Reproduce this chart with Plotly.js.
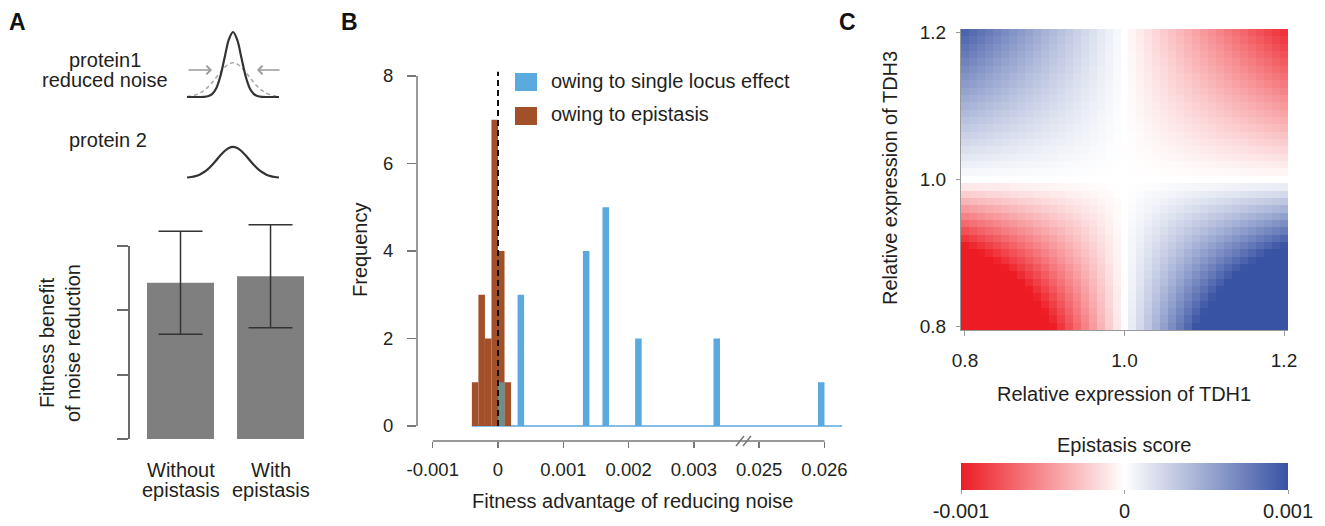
<!DOCTYPE html>
<html><head><meta charset="utf-8">
<script src="https://cdn.plot.ly/plotly-3.0.1.min.js"></script>
<style>html,body{margin:0;padding:0;background:#fff;}#chart{width:1325px;height:526px;}</style>
</head><body><div id="chart"></div>
<script>
// ---------- Panel A data ----------
const barCategories = ['Without epistasis', 'With epistasis'];
const barValues = [2.43, 2.53];
const barErrors = [0.80, 0.80];
// schematic expression distributions (x in s.d. units of the low-noise protein)
const curveX = [-5.5,-5,-4.5,-4,-3.5,-3,-2.5,-2,-1.5,-1,-0.5,0,0.5,1,1.5,2,2.5,3,3.5,4,4.5,5,5.5];
const reducedNoiseY = [0,0,0,0.0003,0.002,0.011,0.044,0.135,0.325,0.607,0.882,1,0.882,0.607,0.325,0.135,0.044,0.011,0.002,0.0003,0,0,0];
const originalNoiseY = [0.008,0.017,0.032,0.057,0.097,0.151,0.221,0.302,0.385,0.458,0.508,0.526,0.508,0.458,0.385,0.302,0.221,0.151,0.097,0.057,0.032,0.017,0.008];
const protein2Y = [0.008,0.017,0.032,0.057,0.097,0.151,0.221,0.302,0.385,0.458,0.508,0.526,0.508,0.458,0.385,0.302,0.221,0.151,0.097,0.057,0.032,0.017,0.008];

// ---------- Panel B data ----------
const binWidth = 0.0001;
const epistasisBins = [-0.00035,-0.00025,-0.00015,-0.00005,0.00005,0.00015];
const epistasisCounts = [1,3,2,7,4,1];
const singleLocusBins = [0.00005,0.00035,0.00135,0.00165,0.00215,0.00335,0.02595];
const singleLocusCounts = [1,3,4,5,2,2,1];
const histTickValues = [-0.001,0,0.001,0.002,0.003,0.025,0.026];
const histTickLabels = ['-0.001','0','0.001','0.002','0.003','0.025','0.026'];
const freqTicks = [0,2,4,6,8];
const seriesNames = ['owing to single locus effect','owing to epistasis'];

// ---------- Panel C data ----------
const tdh1 = [0.80,0.81,0.82,0.83,0.84,0.85,0.86,0.87,0.88,0.89,0.90,0.91,0.92,0.93,0.94,0.95,0.96,0.97,0.98,0.99,1.00,1.01,1.02,1.03,1.04,1.05,1.06,1.07,1.08,1.09,1.10,1.11,1.12,1.13,1.14,1.15,1.16,1.17,1.18,1.19,1.20];
const tdh3 = [0.80,0.81,0.82,0.83,0.84,0.85,0.86,0.87,0.88,0.89,0.90,0.91,0.92,0.93,0.94,0.95,0.96,0.97,0.98,0.99,1.00,1.01,1.02,1.03,1.04,1.05,1.06,1.07,1.08,1.09,1.10,1.11,1.12,1.13,1.14,1.15,1.16,1.17,1.18,1.19,1.20];
const tdh1Effect = [-2.0,-1.9,-1.8,-1.7,-1.6,-1.5,-1.4,-1.3,-1.2,-1.1,-1.0,-0.9,-0.8,-0.7,-0.6,-0.5,-0.4,-0.3,-0.2,-0.1,0,0.1,0.2,0.3,0.4,0.5,0.6,0.7,0.8,0.9,1.0,1.1,1.2,1.3,1.4,1.5,1.6,1.7,1.8,1.9,2.0];
const tdh3Effect = [-1.100,-1.045,-0.990,-0.935,-0.880,-0.825,-0.770,-0.715,-0.660,-0.605,-0.550,-0.495,-0.440,-0.385,-0.330,-0.275,-0.220,-0.165,-0.110,-0.055,0,0.023,0.045,0.068,0.090,0.113,0.135,0.158,0.180,0.203,0.225,0.248,0.270,0.293,0.315,0.338,0.360,0.383,0.405,0.428,0.450];
const scoreUnit = 0.001;
const heatTicks = [0.8,1.0,1.2];
const scoreTicks = [-0.001,0,0.001];
const scoreTickLabels = ['-0.001','0','0.001'];

// ---------- helpers ----------
const W = 1325, H = 526;
const px = v => v / W;
const py = v => 1 - v / H;
const toAxis = v => (v > 0.02 ? v - 0.021 : v);   // broken x axis: 0.025 -> 0.004
const FONT = 'Liberation Sans, Arial, sans-serif';
const TXT = '#231f20';
const BLUE = '#5aa9df', BROWN = '#a2502a', OVERLAP = '#6f8e8b';
const GREY_AX = '#777777';

const z = tdh3.map((y, j) => tdh1.map((x, i) => -tdh1Effect[i] * tdh3Effect[j] * scoreUnit));

const blueColors = singleLocusBins.map(b => epistasisBins.some(e => Math.abs(e - b) < 1e-9) ? OVERLAP : BLUE);

const traces = [
  // Panel A bars
  {type:'bar', x:[0,1], y:barValues, width:0.744, xaxis:'x', yaxis:'y',
   marker:{color:'#7f7f7f'}, hoverinfo:'skip',
   error_y:{type:'data', array:barErrors, visible:true, color:'#333', thickness:1.5, width:22}},
  // Panel A curves
  {type:'scatter', mode:'lines', x:curveX, y:originalNoiseY, xaxis:'x4', yaxis:'y4',
   line:{color:'#ababab', width:1.6, dash:'4px,3px', shape:'spline'}, hoverinfo:'skip'},
  {type:'scatter', mode:'lines', x:curveX, y:reducedNoiseY, xaxis:'x4', yaxis:'y4',
   line:{color:'#333', width:2.2, shape:'spline'}, hoverinfo:'skip'},
  {type:'scatter', mode:'lines', x:curveX, y:protein2Y, xaxis:'x5', yaxis:'y5',
   line:{color:'#333', width:2.2, shape:'spline'}, hoverinfo:'skip'},
  // Panel B histograms
  {type:'bar', name:seriesNames[1], x:epistasisBins.map(toAxis), y:epistasisCounts, width:binWidth,
   xaxis:'x2', yaxis:'y2', marker:{color:BROWN, line:{width:0}}, hoverinfo:'skip'},
  {type:'bar', name:seriesNames[0], x:singleLocusBins.map(toAxis), y:singleLocusCounts, width:binWidth,
   xaxis:'x2', yaxis:'y2', marker:{color:blueColors, line:{width:0}}, hoverinfo:'skip'},
  // Panel C heatmap
  {type:'heatmap', x:tdh1, y:tdh3, z:z, xaxis:'x3', yaxis:'y3', zmin:-0.001, zmax:0.001,
   colorscale:[[0,'#ed1c24'],[0.5,'#ffffff'],[1,'#3953a4']], hoverinfo:'skip',
   colorbar:{orientation:'h', x:px(1124.5), xanchor:'center', y:py(463), yanchor:'top',
     len:327, lenmode:'pixels', thickness:27, thicknessmode:'pixels', xpad:0, ypad:0,
     outlinewidth:0, tickvals:scoreTicks, ticktext:scoreTickLabels, ticks:'outside', ticklen:4,
     tickcolor:'#999', tickfont:{size:20, family:FONT, color:TXT}}}
];

const hidden = {visible:false, fixedrange:true};

const layout = {
  width:W, height:H, margin:{l:0,r:0,t:0,b:0}, showlegend:false,
  paper_bgcolor:'#fff', plot_bgcolor:'rgba(0,0,0,0)', barmode:'overlay',
  font:{family:FONT, color:TXT, size:20},
  // Panel A bar axes
  xaxis:{domain:[px(129), px(315)], range:[-0.572, 1.494], showticklabels:false, ticks:'',
         showgrid:false, zeroline:false, showline:false, fixedrange:true},
  yaxis:{domain:[py(439), py(215)], range:[0, 3.482], tickvals:[0,1,2,3], showticklabels:false,
         ticks:'outside', ticklen:11, tickwidth:2, tickcolor:'#6b6b6b',
         showgrid:false, zeroline:false, showline:false, fixedrange:true},
  // Panel B axes
  xaxis2:{domain:[px(417), px(845)], range:[-0.0012404, 0.005314], anchor:'y2',
          tickvals:histTickValues.map(toAxis), ticktext:histTickLabels, ticks:'outside', ticklen:6,
          tickwidth:1.5, tickcolor:GREY_AX, tickfont:{size:18.5}, ticklabelstandoff:6,
          showgrid:false, zeroline:false, showline:false, fixedrange:true},
  yaxis2:{domain:[py(441), py(60)], range:[-0.343, 8.366], anchor:'x2',
          tickvals:freqTicks, ticks:'outside', ticklen:9, tickwidth:1.5, tickcolor:GREY_AX,
          tickfont:{size:18.5}, ticklabelstandoff:10,
          showgrid:false, zeroline:false, showline:false, fixedrange:true},
  // Panel C axes
  xaxis3:{domain:[px(961), px(1288)], range:[0.795, 1.205], anchor:'y3',
          tickvals:heatTicks, tickformat:'.1f', ticks:'outside', ticklen:5, tickcolor:'#999',
          tickfont:{size:19}, ticklabelstandoff:8, showline:true, linecolor:'#999', linewidth:1,
          showgrid:false, zeroline:false, fixedrange:true},
  yaxis3:{domain:[py(330), py(29)], range:[0.795, 1.205], anchor:'x3',
          tickvals:heatTicks, tickformat:'.1f', ticks:'outside', ticklen:4, tickcolor:'#999',
          tickfont:{size:19}, ticklabelstandoff:6, showline:true, linecolor:'#999', linewidth:1,
          showgrid:false, zeroline:false, fixedrange:true},
  // Panel A schematic axes
  xaxis4:Object.assign({domain:[px(187), px(279)], range:[-5.5,5.5], anchor:'y4'}, hidden),
  yaxis4:Object.assign({domain:[py(100), py(28)], range:[-0.046, 1.0615], anchor:'x4'}, hidden),
  xaxis5:Object.assign({domain:[px(187), px(279)], range:[-5.5,5.5], anchor:'y5'}, hidden),
  yaxis5:Object.assign({domain:[py(181), py(140)], range:[-0.0508, 0.644], anchor:'x5'}, hidden),
  shapes:[
    // Panel A bracket axis
    {type:'line', xref:'paper', yref:'y', x0:px(129), x1:px(129), y0:0, y1:3, line:{color:'#6b6b6b', width:2}},
    // Panel B y axis line
    {type:'line', xref:'paper', yref:'y2', x0:px(417), x1:px(417), y0:0, y1:8, line:{color:GREY_AX, width:1.5}},
    // Panel B x axis line (with break)
    {type:'line', xref:'x2', yref:'paper', x0:-0.001, x1:0.005, y0:py(441), y1:py(441), line:{color:GREY_AX, width:1.5}},
    {type:'line', xref:'paper', yref:'paper', x0:px(736), x1:px(744), y0:py(446), y1:py(436), line:{color:GREY_AX, width:1.5}},
    {type:'line', xref:'paper', yref:'paper', x0:px(743), x1:px(751), y0:py(446), y1:py(436), line:{color:GREY_AX, width:1.5}},
    // histogram baseline
    {type:'line', xref:'x2', yref:'y2', x0:-0.0004, x1:0.00527, y0:0, y1:0, line:{color:BLUE, width:1.5}, layer:'below'},
    // zero line
    {type:'line', xref:'x2', yref:'y2', x0:0, x1:0, y0:0, y1:8.1, line:{color:'#111', width:2, dash:'6px,4px'}},
    // manual legend swatches
    {type:'rect', xref:'paper', yref:'paper', x0:px(515), x1:px(537), y0:py(91), y1:py(73), fillcolor:BLUE, line:{width:0}},
    {type:'rect', xref:'paper', yref:'paper', x0:px(515), x1:px(537), y0:py(125), y1:py(107), fillcolor:BROWN, line:{width:0}}
  ],
  annotations:[]
};

const ann = (text, x, y, opts) => Object.assign({text, x:px(x), y:py(y), xref:'paper', yref:'paper',
  showarrow:false, xanchor:'center', yanchor:'middle', font:{size:20, family:FONT, color:TXT}}, opts || {});

layout.annotations.push(
  ann('<b>A</b>', 17, 22, {font:{size:23, family:FONT, color:'#111'}}),
  ann('<b>B</b>', 349, 22, {font:{size:23, family:FONT, color:'#111'}}),
  ann('<b>C</b>', 847, 22, {font:{size:23, family:FONT, color:'#111'}}),
  ann('protein1', 105, 60),
  ann('reduced noise', 105, 80),
  ann('protein 2', 108, 140),
  ann('Fitness benefit<br>of noise reduction', 60, 343, {textangle:-90}),
  ann('Frequency', 360, 250, {textangle:-90}),
  ann('Fitness advantage of reducing noise', 632, 501),
  ann(seriesNames[0], 549, 81, {xanchor:'left'}),
  ann(seriesNames[1], 549, 114, {xanchor:'left'}),
  ann('Relative expression of TDH3', 890, 178, {textangle:-90}),
  ann('Relative expression of TDH1', 1124, 394),
  ann('Epistasis score', 1124, 445)
);
// bar category labels (two lines each)
barCategories.forEach((c, i) => {
  const parts = c.split(' ');
  layout.annotations.push(
    {text:parts[0], x:i, xref:'x', y:py(470), yref:'paper', showarrow:false, xanchor:'center', yanchor:'middle', font:{size:20, family:FONT, color:TXT}},
    {text:parts[1], x:i, xref:'x', y:py(490), yref:'paper', showarrow:false, xanchor:'center', yanchor:'middle', font:{size:20, family:FONT, color:TXT}}
  );
});
// noise-reduction arrows
layout.annotations.push(
  {text:'', x:px(212), y:py(70), xref:'paper', yref:'paper', ax:-25, ay:0, showarrow:true,
   arrowhead:4, arrowsize:1.1, arrowwidth:1.5, arrowcolor:'#9a9a9a'},
  {text:'', x:px(257), y:py(70), xref:'paper', yref:'paper', ax:24, ay:0, showarrow:true,
   arrowhead:4, arrowsize:1.1, arrowwidth:1.5, arrowcolor:'#9a9a9a'}
);

Plotly.newPlot('chart', traces, layout, {displayModeBar:false, staticPlot:true});
</script>
</body></html>
